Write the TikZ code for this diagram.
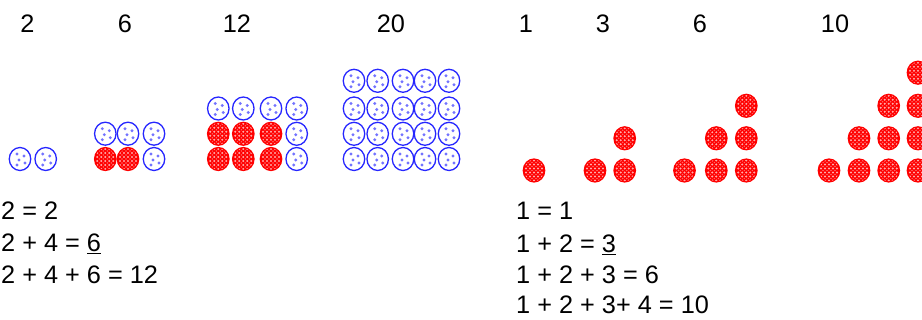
\documentclass[tikz,border=0pt]{standalone}
\usepackage{fontspec}
\setmainfont{Liberation Sans}
\usetikzlibrary{shapes.geometric}
\begin{document}
\begin{tikzpicture}[x=1pt,y=-1pt,
  bc/.style={ellipse,draw=blue!85,line width=1.3pt,fill=white,minimum width=21.5pt,minimum height=23pt,inner sep=0pt,
    path picture={
      \foreach \p in {(-3,-5),(4,-3),(-1,1),(5,4),(-3,6)}
        \fill[blue!55] ([shift={\p}]path picture bounding box.center) circle (1.6);}},
  rc/.style={ellipse,draw=red,line width=1.2pt,fill=red,minimum width=21.5pt,minimum height=23pt,inner sep=0pt,
    path picture={
      \foreach \u in {-8,-4,0,4,8}
        \foreach \v in {-10,-6,-2,2,6,10}
          \fill[white!90!red,opacity=0.75] ([shift={(\u,\v)}]path picture bounding box.center) circle (1.1);
      \foreach \u in {-6,-2,2,6}
        \foreach \v in {-8,-4,0,4,8}
          \fill[white!90!red,opacity=0.45] ([shift={(\u,\v)}]path picture bounding box.center) circle (0.8);}},
  lbl/.style={anchor=base,inner sep=0pt,font=\fontsize{25.3}{30}\selectfont},
  eq/.style={anchor=base west,inner sep=0pt,font=\fontsize{25.3}{30}\selectfont}]
\useasboundingbox (0,0) rectangle (922,320);
% top labels
\node[lbl] (t1) at (27.5,33) {2};
\node[lbl] (t2) at (125,33) {6};
\node[lbl] (t3) at (237,33) {12};
\node[lbl] (t4) at (391,33) {20};
\node[lbl] (t5) at (526,33) {1};
\node[lbl] (t6) at (603,33) {3};
\node[lbl] (t7) at (700,33) {6};
\node[lbl] (t8) at (835,33) {10};
% group 1
\node[bc] (a1) at (20,159) {};
\node[bc] (a2) at (45.7,159) {};
% group 2
\node[bc] (b11) at (105.3,133.7) {};
\node[bc] (b12) at (128,133.7) {};
\node[bc] (b13) at (154,133.7) {};
\node[rc] (b21) at (105.3,159) {};
\node[rc] (b22) at (128,159) {};
\node[bc] (b23) at (154,159) {};
% group 3
\foreach \x [count=\i] in {218.3,243.3,271,296.7}
  \node[bc] (c1\i) at (\x,108.5) {};
\foreach \y [count=\j from 2] in {133.8,159}{
  \foreach \x [count=\i] in {218.3,243.3,271}
    \node[rc] (c\j\i) at (\x,\y) {};
  \node[bc] (c\j4) at (296.7,\y) {};
}
% group 4
\foreach \y [count=\j] in {80.8,108.5,133.8,159}
  \foreach \x [count=\i] in {354,377.7,403,425,449}
    \node[bc] (d\j\i) at (\x,\y) {};
% triangular groups
\node[rc] (e1) at (534,170.5) {};
\node[rc] (f1) at (595,170.5) {};
\node[rc] (f2) at (624.7,170.5) {};
\node[rc] (f3) at (624.7,138.3) {};
\node[rc] (g1) at (684.5,170.5) {};
\node[rc] (g2) at (716.3,170.5) {};
\node[rc] (g3) at (746.3,170.5) {};
\node[rc] (g4) at (716.3,138.3) {};
\node[rc] (g5) at (746.3,138.3) {};
\node[rc] (g6) at (746.3,105.8) {};
\node[rc] (h1) at (829,170.5) {};
\node[rc] (h2) at (859,170.5) {};
\node[rc] (h3) at (888.7,170.5) {};
\node[rc] (h4) at (918,170.5) {};
\node[rc] (h5) at (859,138.3) {};
\node[rc] (h6) at (888.7,138.3) {};
\node[rc] (h7) at (918,138.3) {};
\node[rc] (h8) at (888.7,105.8) {};
\node[rc] (h9) at (918,105.8) {};
\node[rc] (h10) at (918,72.7) {};
% equations
\node[eq] (l1) at (1,220) {2 = 2};
\node[eq] (l2) at (1,252) {2 + 4 = \underline{6}};
\node[eq] (l3) at (1,283.5) {2 + 4 + 6 = 12};
\node[eq] (r1) at (516,220) {1 = 1};
\node[eq] (r2) at (516,253) {1 + 2 = \underline{3}};
\node[eq] (r3) at (516,284) {1 + 2 + 3 = 6};
\node[eq] (r4) at (516,314) {1 + 2 + 3+ 4 = 10};
\end{tikzpicture}
\end{document}
